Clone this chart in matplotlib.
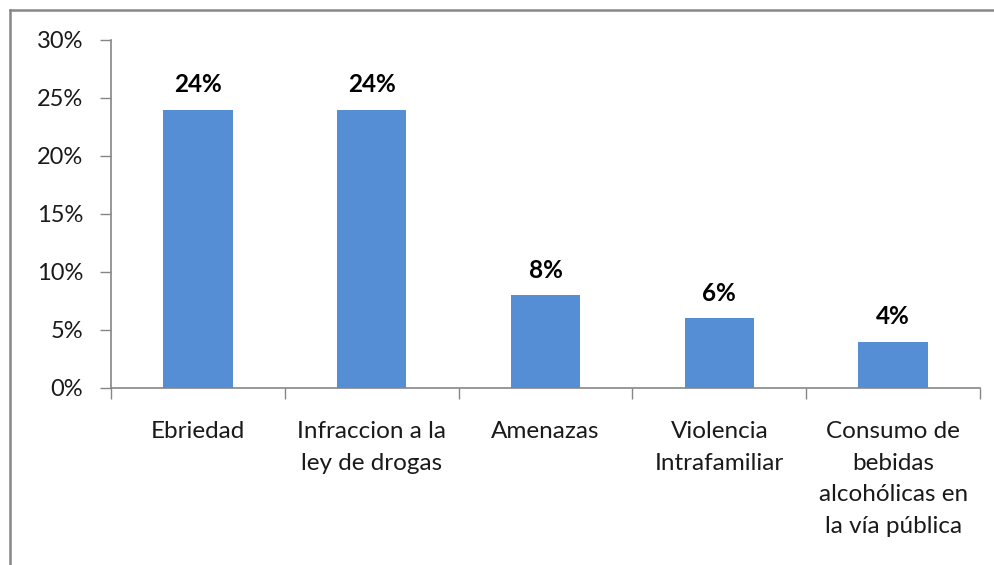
import matplotlib
matplotlib.use("Agg")
import matplotlib.pyplot as plt
from matplotlib.lines import Line2D
from matplotlib.ticker import FuncFormatter, MultipleLocator

categories = ["Ebriedad", "Infraccion a la\nley de drogas", "Amenazas",
              "Violencia\nIntrafamiliar", "Consumo de\nbebidas\nalcohólicas en\nla vía pública"]
values = [24, 24, 8, 6, 4]
labels = ["24%", "24%", "8%", "6%", "4%"]

plt.rcParams['font.family'] = ['Lato', 'DejaVu Sans']

fig = plt.figure(figsize=(9.94, 5.65), dpi=100)
W, H = 994, 565
ax = fig.add_axes([111 / W, 1 - 388 / H, (980 - 111) / W, (388 - 40) / H])

bar_color = "#558ED5"
x = list(range(len(categories)))
bars = ax.bar(x, values, width=0.4, color=bar_color, zorder=2)
for xi, v, lab in zip(x, values, labels):
    ax.annotate(lab, (xi, v), xytext=(0, 9.5), textcoords="offset points",
                ha="center", va="bottom", fontsize=17.5, fontweight="bold", color="black")

ax.set_xlim(-0.5, len(categories) - 0.5)
ax.set_ylim(0, 30)
ax.yaxis.set_major_locator(MultipleLocator(5))
ax.yaxis.set_major_formatter(FuncFormatter(lambda v, p: f"{int(v)}%"))

ax.set_xticks([i - 0.5 for i in range(len(categories) + 1)], minor=False)
ax.set_xticklabels([])
ax.set_xticks(x, minor=True)
ax.set_xticklabels(categories, minor=True, fontsize=17.5, color="#1a1a1a", linespacing=1.62)
ax.tick_params(axis="x", which="minor", length=0, pad=24)
ax.tick_params(axis="x", which="major", length=8, width=1, color="#868686", direction="out")
ax.tick_params(axis="y", length=8, width=1, color="#868686", direction="out", labelsize=17,
               labelcolor="#1a1a1a", pad=12)

for s in ["top", "right"]:
    ax.spines[s].set_visible(False)
for s in ["left", "bottom"]:
    ax.spines[s].set_color("#868686")
    ax.spines[s].set_linewidth(1.2)

# outer chart frame
fig.add_artist(Line2D([10 / W, 1.0], [1 - 10 / H, 1 - 10 / H], transform=fig.transFigure,
                      color="#878787", linewidth=1.8))
fig.add_artist(Line2D([10 / W, 10 / W], [1 - 10 / H, 0.0], transform=fig.transFigure,
                      color="#878787", linewidth=1.8))

fig.savefig("out.png", dpi=100)
